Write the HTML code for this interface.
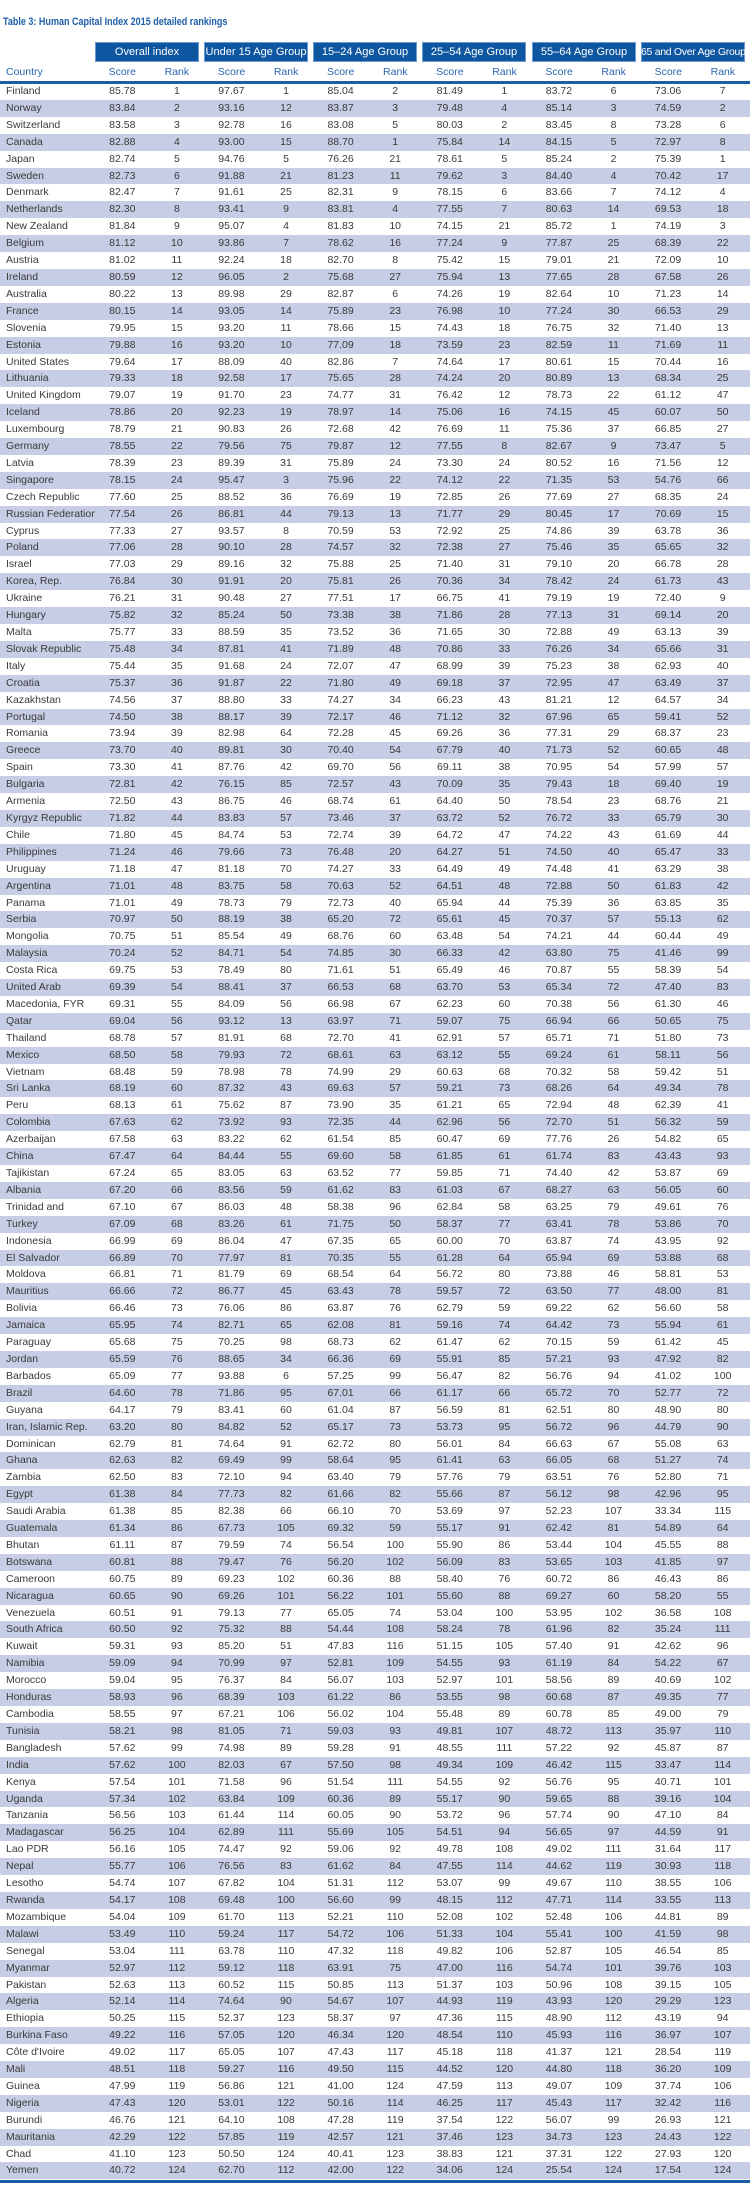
<!DOCTYPE html>
<html><head><meta charset="utf-8"><style>
body{margin:0;width:750px;height:2202px;background:#fff;position:relative;font-family:"Liberation Sans",Arial,sans-serif;color:#3a3a3a;overflow:hidden}
.t{position:absolute;left:3px;top:16px;font-size:11px;font-weight:bold;color:#1f5fa8;transform:scaleX(0.82);transform-origin:0 0;white-space:nowrap}
.h{position:absolute;top:42px;height:20px;width:104px;background:#0e56a0;color:#fff;font-size:11px;line-height:20px;text-align:center;white-space:nowrap;overflow:hidden;box-shadow:0 0 0 1px #6d9ad0 inset}
.s{position:absolute;top:63px;left:0;width:750px;height:18px;font-size:10.5px;color:#2c66ae;line-height:18px}
.s span{position:absolute;width:54.6px;text-align:center}
.ln{position:absolute;left:0;width:750px;height:3px;background:#1a5ea8}
table{position:absolute;left:0;top:83px;width:750px;border-collapse:collapse;table-layout:fixed;font-size:10.5px}
td{padding:0;height:16.91px;line-height:16.91px;text-align:center;white-space:nowrap;overflow:hidden}
td:first-child{text-align:left;padding-left:6px}
tr:nth-child(even){background:#c6cde5}
</style></head><body>
<div class="t">Table 3: Human Capital Index 2015 detailed rankings</div>
<div class="h" style="left:95px">Overall index</div>
<div class="h" style="left:204px">Under 15 Age Group</div>
<div class="h" style="left:313px">15–24 Age Group</div>
<div class="h" style="left:422px">25–54 Age Group</div>
<div class="h" style="left:532px">55–64 Age Group</div>
<div class="h" style="left:641px;font-size:10.5px;letter-spacing:-0.3px">65 and Over Age Group</div>
<div class="s"><span style="left:6px;text-align:left">Country</span>
<span style="left:95px">Score</span><span style="left:149.6px">Rank</span>
<span style="left:204.2px">Score</span><span style="left:258.8px">Rank</span>
<span style="left:313.4px">Score</span><span style="left:368px">Rank</span>
<span style="left:422.6px">Score</span><span style="left:477.2px">Rank</span>
<span style="left:531.8px">Score</span><span style="left:586.4px">Rank</span>
<span style="left:641px">Score</span><span style="left:695.6px">Rank</span></div>
<div class="ln" style="top:81px"></div>
<table>
<colgroup><col style="width:95px"><col span="12" style="width:54.58px"></colgroup>
<tr><td>Finland<td>85.78<td>1<td>97.67<td>1<td>85.04<td>2<td>81.49<td>1<td>83.72<td>6<td>73.06<td>7
<tr><td>Norway<td>83.84<td>2<td>93.16<td>12<td>83.87<td>3<td>79.48<td>4<td>85.14<td>3<td>74.59<td>2
<tr><td>Switzerland<td>83.58<td>3<td>92.78<td>16<td>83.08<td>5<td>80.03<td>2<td>83.45<td>8<td>73.28<td>6
<tr><td>Canada<td>82.88<td>4<td>93.00<td>15<td>88.70<td>1<td>75.84<td>14<td>84.15<td>5<td>72.97<td>8
<tr><td>Japan<td>82.74<td>5<td>94.76<td>5<td>76.26<td>21<td>78.61<td>5<td>85.24<td>2<td>75.39<td>1
<tr><td>Sweden<td>82.73<td>6<td>91.88<td>21<td>81.23<td>11<td>79.62<td>3<td>84.40<td>4<td>70.42<td>17
<tr><td>Denmark<td>82.47<td>7<td>91.61<td>25<td>82.31<td>9<td>78.15<td>6<td>83.66<td>7<td>74.12<td>4
<tr><td>Netherlands<td>82.30<td>8<td>93.41<td>9<td>83.81<td>4<td>77.55<td>7<td>80.63<td>14<td>69.53<td>18
<tr><td>New Zealand<td>81.84<td>9<td>95.07<td>4<td>81.83<td>10<td>74.15<td>21<td>85.72<td>1<td>74.19<td>3
<tr><td>Belgium<td>81.12<td>10<td>93.86<td>7<td>78.62<td>16<td>77.24<td>9<td>77.87<td>25<td>68.39<td>22
<tr><td>Austria<td>81.02<td>11<td>92.24<td>18<td>82.70<td>8<td>75.42<td>15<td>79.01<td>21<td>72.09<td>10
<tr><td>Ireland<td>80.59<td>12<td>96.05<td>2<td>75.68<td>27<td>75.94<td>13<td>77.65<td>28<td>67.58<td>26
<tr><td>Australia<td>80.22<td>13<td>89.98<td>29<td>82.87<td>6<td>74.26<td>19<td>82.64<td>10<td>71.23<td>14
<tr><td>France<td>80.15<td>14<td>93.05<td>14<td>75.89<td>23<td>76.98<td>10<td>77.24<td>30<td>66.53<td>29
<tr><td>Slovenia<td>79.95<td>15<td>93.20<td>11<td>78.66<td>15<td>74.43<td>18<td>76.75<td>32<td>71.40<td>13
<tr><td>Estonia<td>79.88<td>16<td>93.20<td>10<td>77.09<td>18<td>73.59<td>23<td>82.59<td>11<td>71.69<td>11
<tr><td>United States<td>79.64<td>17<td>88.09<td>40<td>82.86<td>7<td>74.64<td>17<td>80.61<td>15<td>70.44<td>16
<tr><td>Lithuania<td>79.33<td>18<td>92.58<td>17<td>75.65<td>28<td>74.24<td>20<td>80.89<td>13<td>68.34<td>25
<tr><td>United Kingdom<td>79.07<td>19<td>91.70<td>23<td>74.77<td>31<td>76.42<td>12<td>78.73<td>22<td>61.12<td>47
<tr><td>Iceland<td>78.86<td>20<td>92.23<td>19<td>78.97<td>14<td>75.06<td>16<td>74.15<td>45<td>60.07<td>50
<tr><td>Luxembourg<td>78.79<td>21<td>90.83<td>26<td>72.68<td>42<td>76.69<td>11<td>75.36<td>37<td>66.85<td>27
<tr><td>Germany<td>78.55<td>22<td>79.56<td>75<td>79.87<td>12<td>77.55<td>8<td>82.67<td>9<td>73.47<td>5
<tr><td>Latvia<td>78.39<td>23<td>89.39<td>31<td>75.89<td>24<td>73.30<td>24<td>80.52<td>16<td>71.56<td>12
<tr><td>Singapore<td>78.15<td>24<td>95.47<td>3<td>75.96<td>22<td>74.12<td>22<td>71.35<td>53<td>54.76<td>66
<tr><td>Czech Republic<td>77.60<td>25<td>88.52<td>36<td>76.69<td>19<td>72.85<td>26<td>77.69<td>27<td>68.35<td>24
<tr><td>Russian Federation<td>77.54<td>26<td>86.81<td>44<td>79.13<td>13<td>71.77<td>29<td>80.45<td>17<td>70.69<td>15
<tr><td>Cyprus<td>77.33<td>27<td>93.57<td>8<td>70.59<td>53<td>72.92<td>25<td>74.86<td>39<td>63.78<td>36
<tr><td>Poland<td>77.06<td>28<td>90.10<td>28<td>74.57<td>32<td>72.38<td>27<td>75.46<td>35<td>65.65<td>32
<tr><td>Israel<td>77.03<td>29<td>89.16<td>32<td>75.88<td>25<td>71.40<td>31<td>79.10<td>20<td>66.78<td>28
<tr><td>Korea, Rep.<td>76.84<td>30<td>91.91<td>20<td>75.81<td>26<td>70.36<td>34<td>78.42<td>24<td>61.73<td>43
<tr><td>Ukraine<td>76.21<td>31<td>90.48<td>27<td>77.51<td>17<td>66.75<td>41<td>79.19<td>19<td>72.40<td>9
<tr><td>Hungary<td>75.82<td>32<td>85.24<td>50<td>73.38<td>38<td>71.86<td>28<td>77.13<td>31<td>69.14<td>20
<tr><td>Malta<td>75.77<td>33<td>88.59<td>35<td>73.52<td>36<td>71.65<td>30<td>72.88<td>49<td>63.13<td>39
<tr><td>Slovak Republic<td>75.48<td>34<td>87.81<td>41<td>71.89<td>48<td>70.86<td>33<td>76.26<td>34<td>65.66<td>31
<tr><td>Italy<td>75.44<td>35<td>91.68<td>24<td>72.07<td>47<td>68.99<td>39<td>75.23<td>38<td>62.93<td>40
<tr><td>Croatia<td>75.37<td>36<td>91.87<td>22<td>71.80<td>49<td>69.18<td>37<td>72.95<td>47<td>63.49<td>37
<tr><td>Kazakhstan<td>74.56<td>37<td>88.80<td>33<td>74.27<td>34<td>66.23<td>43<td>81.21<td>12<td>64.57<td>34
<tr><td>Portugal<td>74.50<td>38<td>88.17<td>39<td>72.17<td>46<td>71.12<td>32<td>67.96<td>65<td>59.41<td>52
<tr><td>Romania<td>73.94<td>39<td>82.98<td>64<td>72.28<td>45<td>69.26<td>36<td>77.31<td>29<td>68.37<td>23
<tr><td>Greece<td>73.70<td>40<td>89.81<td>30<td>70.40<td>54<td>67.79<td>40<td>71.73<td>52<td>60.65<td>48
<tr><td>Spain<td>73.30<td>41<td>87.76<td>42<td>69.70<td>56<td>69.11<td>38<td>70.95<td>54<td>57.99<td>57
<tr><td>Bulgaria<td>72.81<td>42<td>76.15<td>85<td>72.57<td>43<td>70.09<td>35<td>79.43<td>18<td>69.40<td>19
<tr><td>Armenia<td>72.50<td>43<td>86.75<td>46<td>68.74<td>61<td>64.40<td>50<td>78.54<td>23<td>68.76<td>21
<tr><td>Kyrgyz Republic<td>71.82<td>44<td>83.83<td>57<td>73.46<td>37<td>63.72<td>52<td>76.72<td>33<td>65.79<td>30
<tr><td>Chile<td>71.80<td>45<td>84.74<td>53<td>72.74<td>39<td>64.72<td>47<td>74.22<td>43<td>61.69<td>44
<tr><td>Philippines<td>71.24<td>46<td>79.66<td>73<td>76.48<td>20<td>64.27<td>51<td>74.50<td>40<td>65.47<td>33
<tr><td>Uruguay<td>71.18<td>47<td>81.18<td>70<td>74.27<td>33<td>64.49<td>49<td>74.48<td>41<td>63.29<td>38
<tr><td>Argentina<td>71.01<td>48<td>83.75<td>58<td>70.63<td>52<td>64.51<td>48<td>72.88<td>50<td>61.83<td>42
<tr><td>Panama<td>71.01<td>49<td>78.73<td>79<td>72.73<td>40<td>65.94<td>44<td>75.39<td>36<td>63.85<td>35
<tr><td>Serbia<td>70.97<td>50<td>88.19<td>38<td>65.20<td>72<td>65.61<td>45<td>70.37<td>57<td>55.13<td>62
<tr><td>Mongolia<td>70.75<td>51<td>85.54<td>49<td>68.76<td>60<td>63.48<td>54<td>74.21<td>44<td>60.44<td>49
<tr><td>Malaysia<td>70.24<td>52<td>84.71<td>54<td>74.85<td>30<td>66.33<td>42<td>63.80<td>75<td>41.46<td>99
<tr><td>Costa Rica<td>69.75<td>53<td>78.49<td>80<td>71.61<td>51<td>65.49<td>46<td>70.87<td>55<td>58.39<td>54
<tr><td>United Arab<td>69.39<td>54<td>88.41<td>37<td>66.53<td>68<td>63.70<td>53<td>65.34<td>72<td>47.40<td>83
<tr><td>Macedonia, FYR<td>69.31<td>55<td>84.09<td>56<td>66.98<td>67<td>62.23<td>60<td>70.38<td>56<td>61.30<td>46
<tr><td>Qatar<td>69.04<td>56<td>93.12<td>13<td>63.97<td>71<td>59.07<td>75<td>66.94<td>66<td>50.65<td>75
<tr><td>Thailand<td>68.78<td>57<td>81.91<td>68<td>72.70<td>41<td>62.91<td>57<td>65.71<td>71<td>51.80<td>73
<tr><td>Mexico<td>68.50<td>58<td>79.93<td>72<td>68.61<td>63<td>63.12<td>55<td>69.24<td>61<td>58.11<td>56
<tr><td>Vietnam<td>68.48<td>59<td>78.98<td>78<td>74.99<td>29<td>60.63<td>68<td>70.32<td>58<td>59.42<td>51
<tr><td>Sri Lanka<td>68.19<td>60<td>87.32<td>43<td>69.63<td>57<td>59.21<td>73<td>68.26<td>64<td>49.34<td>78
<tr><td>Peru<td>68.13<td>61<td>75.62<td>87<td>73.90<td>35<td>61.21<td>65<td>72.94<td>48<td>62.39<td>41
<tr><td>Colombia<td>67.63<td>62<td>73.92<td>93<td>72.35<td>44<td>62.96<td>56<td>72.70<td>51<td>56.32<td>59
<tr><td>Azerbaijan<td>67.58<td>63<td>83.22<td>62<td>61.54<td>85<td>60.47<td>69<td>77.76<td>26<td>54.82<td>65
<tr><td>China<td>67.47<td>64<td>84.44<td>55<td>69.60<td>58<td>61.85<td>61<td>61.74<td>83<td>43.43<td>93
<tr><td>Tajikistan<td>67.24<td>65<td>83.05<td>63<td>63.52<td>77<td>59.85<td>71<td>74.40<td>42<td>53.87<td>69
<tr><td>Albania<td>67.20<td>66<td>83.56<td>59<td>61.62<td>83<td>61.03<td>67<td>68.27<td>63<td>56.05<td>60
<tr><td>Trinidad and<td>67.10<td>67<td>86.03<td>48<td>58.38<td>96<td>62.84<td>58<td>63.25<td>79<td>49.61<td>76
<tr><td>Turkey<td>67.09<td>68<td>83.26<td>61<td>71.75<td>50<td>58.37<td>77<td>63.41<td>78<td>53.86<td>70
<tr><td>Indonesia<td>66.99<td>69<td>86.04<td>47<td>67.35<td>65<td>60.00<td>70<td>63.87<td>74<td>43.95<td>92
<tr><td>El Salvador<td>66.89<td>70<td>77.97<td>81<td>70.35<td>55<td>61.28<td>64<td>65.94<td>69<td>53.88<td>68
<tr><td>Moldova<td>66.81<td>71<td>81.79<td>69<td>68.54<td>64<td>56.72<td>80<td>73.88<td>46<td>58.81<td>53
<tr><td>Mauritius<td>66.66<td>72<td>86.77<td>45<td>63.43<td>78<td>59.57<td>72<td>63.50<td>77<td>48.00<td>81
<tr><td>Bolivia<td>66.46<td>73<td>76.06<td>86<td>63.87<td>76<td>62.79<td>59<td>69.22<td>62<td>56.60<td>58
<tr><td>Jamaica<td>65.95<td>74<td>82.71<td>65<td>62.08<td>81<td>59.16<td>74<td>64.42<td>73<td>55.94<td>61
<tr><td>Paraguay<td>65.68<td>75<td>70.25<td>98<td>68.73<td>62<td>61.47<td>62<td>70.15<td>59<td>61.42<td>45
<tr><td>Jordan<td>65.59<td>76<td>88.65<td>34<td>66.36<td>69<td>55.91<td>85<td>57.21<td>93<td>47.92<td>82
<tr><td>Barbados<td>65.09<td>77<td>93.88<td>6<td>57.25<td>99<td>56.47<td>82<td>56.76<td>94<td>41.02<td>100
<tr><td>Brazil<td>64.60<td>78<td>71.86<td>95<td>67.01<td>66<td>61.17<td>66<td>65.72<td>70<td>52.77<td>72
<tr><td>Guyana<td>64.17<td>79<td>83.41<td>60<td>61.04<td>87<td>56.59<td>81<td>62.51<td>80<td>48.90<td>80
<tr><td>Iran, Islamic Rep.<td>63.20<td>80<td>84.82<td>52<td>65.17<td>73<td>53.73<td>95<td>56.72<td>96<td>44.79<td>90
<tr><td>Dominican<td>62.79<td>81<td>74.64<td>91<td>62.72<td>80<td>56.01<td>84<td>66.63<td>67<td>55.08<td>63
<tr><td>Ghana<td>62.63<td>82<td>69.49<td>99<td>58.64<td>95<td>61.41<td>63<td>66.05<td>68<td>51.27<td>74
<tr><td>Zambia<td>62.50<td>83<td>72.10<td>94<td>63.40<td>79<td>57.76<td>79<td>63.51<td>76<td>52.80<td>71
<tr><td>Egypt<td>61.38<td>84<td>77.73<td>82<td>61.66<td>82<td>55.66<td>87<td>56.12<td>98<td>42.96<td>95
<tr><td>Saudi Arabia<td>61.38<td>85<td>82.38<td>66<td>66.10<td>70<td>53.69<td>97<td>52.23<td>107<td>33.34<td>115
<tr><td>Guatemala<td>61.34<td>86<td>67.73<td>105<td>69.32<td>59<td>55.17<td>91<td>62.42<td>81<td>54.89<td>64
<tr><td>Bhutan<td>61.11<td>87<td>79.59<td>74<td>56.54<td>100<td>55.90<td>86<td>53.44<td>104<td>45.55<td>88
<tr><td>Botswana<td>60.81<td>88<td>79.47<td>76<td>56.20<td>102<td>56.09<td>83<td>53.65<td>103<td>41.85<td>97
<tr><td>Cameroon<td>60.75<td>89<td>69.23<td>102<td>60.36<td>88<td>58.40<td>76<td>60.72<td>86<td>46.43<td>86
<tr><td>Nicaragua<td>60.65<td>90<td>69.26<td>101<td>56.22<td>101<td>55.60<td>88<td>69.27<td>60<td>58.20<td>55
<tr><td>Venezuela<td>60.51<td>91<td>79.13<td>77<td>65.05<td>74<td>53.04<td>100<td>53.95<td>102<td>36.58<td>108
<tr><td>South Africa<td>60.50<td>92<td>75.32<td>88<td>54.44<td>108<td>58.24<td>78<td>61.96<td>82<td>35.24<td>111
<tr><td>Kuwait<td>59.31<td>93<td>85.20<td>51<td>47.83<td>116<td>51.15<td>105<td>57.40<td>91<td>42.62<td>96
<tr><td>Namibia<td>59.09<td>94<td>70.99<td>97<td>52.81<td>109<td>54.55<td>93<td>61.19<td>84<td>54.22<td>67
<tr><td>Morocco<td>59.04<td>95<td>76.37<td>84<td>56.07<td>103<td>52.97<td>101<td>58.56<td>89<td>40.69<td>102
<tr><td>Honduras<td>58.93<td>96<td>68.39<td>103<td>61.22<td>86<td>53.55<td>98<td>60.68<td>87<td>49.35<td>77
<tr><td>Cambodia<td>58.55<td>97<td>67.21<td>106<td>56.02<td>104<td>55.48<td>89<td>60.78<td>85<td>49.00<td>79
<tr><td>Tunisia<td>58.21<td>98<td>81.05<td>71<td>59.03<td>93<td>49.81<td>107<td>48.72<td>113<td>35.97<td>110
<tr><td>Bangladesh<td>57.62<td>99<td>74.98<td>89<td>59.28<td>91<td>48.55<td>111<td>57.22<td>92<td>45.87<td>87
<tr><td>India<td>57.62<td>100<td>82.03<td>67<td>57.50<td>98<td>49.34<td>109<td>46.42<td>115<td>33.47<td>114
<tr><td>Kenya<td>57.54<td>101<td>71.58<td>96<td>51.54<td>111<td>54.55<td>92<td>56.76<td>95<td>40.71<td>101
<tr><td>Uganda<td>57.34<td>102<td>63.84<td>109<td>60.36<td>89<td>55.17<td>90<td>59.65<td>88<td>39.16<td>104
<tr><td>Tanzania<td>56.56<td>103<td>61.44<td>114<td>60.05<td>90<td>53.72<td>96<td>57.74<td>90<td>47.10<td>84
<tr><td>Madagascar<td>56.25<td>104<td>62.89<td>111<td>55.69<td>105<td>54.51<td>94<td>56.65<td>97<td>44.59<td>91
<tr><td>Lao PDR<td>56.16<td>105<td>74.47<td>92<td>59.06<td>92<td>49.78<td>108<td>49.02<td>111<td>31.64<td>117
<tr><td>Nepal<td>55.77<td>106<td>76.56<td>83<td>61.62<td>84<td>47.55<td>114<td>44.62<td>119<td>30.93<td>118
<tr><td>Lesotho<td>54.74<td>107<td>67.82<td>104<td>51.31<td>112<td>53.07<td>99<td>49.67<td>110<td>38.55<td>106
<tr><td>Rwanda<td>54.17<td>108<td>69.48<td>100<td>56.60<td>99<td>48.15<td>112<td>47.71<td>114<td>33.55<td>113
<tr><td>Mozambique<td>54.04<td>109<td>61.70<td>113<td>52.21<td>110<td>52.08<td>102<td>52.48<td>106<td>44.81<td>89
<tr><td>Malawi<td>53.49<td>110<td>59.24<td>117<td>54.72<td>106<td>51.33<td>104<td>55.41<td>100<td>41.59<td>98
<tr><td>Senegal<td>53.04<td>111<td>63.78<td>110<td>47.32<td>118<td>49.82<td>106<td>52.87<td>105<td>46.54<td>85
<tr><td>Myanmar<td>52.97<td>112<td>59.12<td>118<td>63.91<td>75<td>47.00<td>116<td>54.74<td>101<td>39.76<td>103
<tr><td>Pakistan<td>52.63<td>113<td>60.52<td>115<td>50.85<td>113<td>51.37<td>103<td>50.96<td>108<td>39.15<td>105
<tr><td>Algeria<td>52.14<td>114<td>74.64<td>90<td>54.67<td>107<td>44.93<td>119<td>43.93<td>120<td>29.29<td>123
<tr><td>Ethiopia<td>50.25<td>115<td>52.37<td>123<td>58.37<td>97<td>47.36<td>115<td>48.90<td>112<td>43.19<td>94
<tr><td>Burkina Faso<td>49.22<td>116<td>57.05<td>120<td>46.34<td>120<td>48.54<td>110<td>45.93<td>116<td>36.97<td>107
<tr><td>Côte d'Ivoire<td>49.02<td>117<td>65.05<td>107<td>47.43<td>117<td>45.18<td>118<td>41.37<td>121<td>28.54<td>119
<tr><td>Mali<td>48.51<td>118<td>59.27<td>116<td>49.50<td>115<td>44.52<td>120<td>44.80<td>118<td>36.20<td>109
<tr><td>Guinea<td>47.99<td>119<td>56.86<td>121<td>41.00<td>124<td>47.59<td>113<td>49.07<td>109<td>37.74<td>106
<tr><td>Nigeria<td>47.43<td>120<td>53.01<td>122<td>50.16<td>114<td>46.25<td>117<td>45.43<td>117<td>32.42<td>116
<tr><td>Burundi<td>46.76<td>121<td>64.10<td>108<td>47.28<td>119<td>37.54<td>122<td>56.07<td>99<td>26.93<td>121
<tr><td>Mauritania<td>42.29<td>122<td>57.85<td>119<td>42.57<td>121<td>37.46<td>123<td>34.73<td>123<td>24.43<td>122
<tr><td>Chad<td>41.10<td>123<td>50.50<td>124<td>40.41<td>123<td>38.83<td>121<td>37.31<td>122<td>27.93<td>120
<tr><td>Yemen<td>40.72<td>124<td>62.70<td>112<td>42.00<td>122<td>34.06<td>124<td>25.54<td>124<td>17.54<td>124
</table>
<div class="ln" style="top:2180px"></div>
</body></html>
